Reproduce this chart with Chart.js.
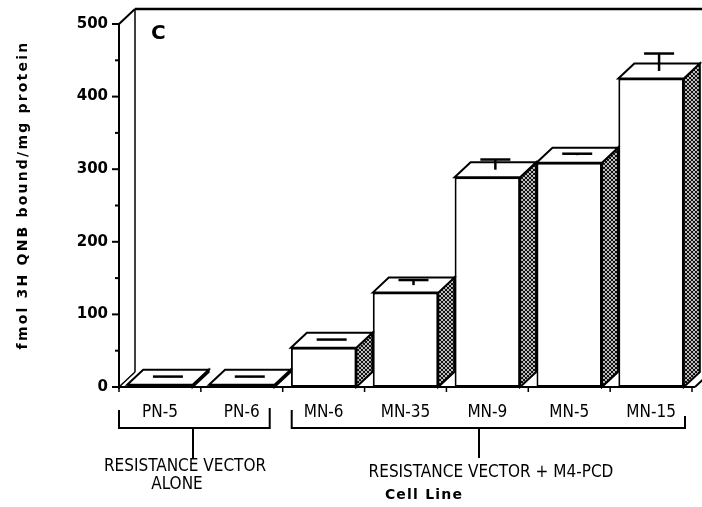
<!DOCTYPE html>
<html>
<head>
<meta charset="utf-8">
<script src="https://cdn.jsdelivr.net/npm/chart.js@4"></script>
<style>
  body { margin: 0; background: #fff; }
  canvas { display: block; }
</style>
</head>
<body>
<canvas id="qnb" width="702" height="507"></canvas>
<script>
// cell lines and binding values (front face of each bar)
const cellLines = ["PN-5", "PN-6", "MN-6", "MN-35", "MN-9", "MN-5", "MN-15"];
const qnbBound = [3, 3, 54, 130, 289, 309, 425];
const qnbErr = [1, 1, 1, 7, 14, 2, 24];
const yTicks = [0, 100, 200, 300, 400, 500];
const groups = [
  { from: 0, to: 1, lines: ["RESISTANCE VECTOR", "ALONE"] },
  { from: 2, to: 6, lines: ["RESISTANCE VECTOR + M4-PCD"] }
];

const DX = 16, DY = 15; // depth of the fake 3d
const narrow = "'Liberation Sans Narrow', 'DejaVu Sans Condensed', 'Liberation Sans', sans-serif";
const wide = "'DejaVu Sans', sans-serif";

// cross hatch for the bar sides
function hatch() {
  const c = document.createElement("canvas");
  c.width = 4; c.height = 4;
  const g = c.getContext("2d");
  g.fillStyle = "#bbb";
  g.fillRect(0, 0, 4, 4);
  g.fillStyle = "#111";
  [[0,0],[1,1],[2,2],[3,3],[3,0],[2,1],[1,2],[0,3]].forEach(p => g.fillRect(p[0], p[1], 1, 1));
  return g.createPattern(c, "repeat");
}

function poly(ctx, pts, fill) {
  ctx.beginPath();
  ctx.moveTo(pts[0][0], pts[0][1]);
  for (let i = 1; i < pts.length; i++) ctx.lineTo(pts[i][0], pts[i][1]);
  ctx.closePath();
  ctx.fillStyle = fill;
  ctx.fill();
  ctx.stroke();
}

function line(ctx, x1, y1, x2, y2) {
  ctx.beginPath();
  ctx.moveTo(x1, y1);
  ctx.lineTo(x2, y2);
  ctx.stroke();
}

const frame = {
  id: "frame",
  beforeDatasetsDraw(chart) {
    const ctx = chart.ctx, a = chart.chartArea;
    const y = chart.scales.y;
    ctx.save();
    ctx.strokeStyle = "#000";
    ctx.lineWidth = 2;
    // back wall + top edge
    line(ctx, a.left, a.top, a.left + DX, a.top - DY);
    ctx.lineWidth = 2.5;
    line(ctx, a.left + DX, a.top - DY, chart.width, a.top - DY);
    ctx.lineWidth = 1.5;
    line(ctx, a.left + DX, a.top - DY, a.left + DX, a.bottom - DY);
    line(ctx, a.left, a.bottom, a.left + DX, a.bottom - DY);
    // front axis and floor
    ctx.lineWidth = 2;
    line(ctx, a.left, a.top, a.left, a.bottom + 2);
    line(ctx, a.left - 2, a.bottom, a.right + 3, a.bottom);
    line(ctx, a.right + 3, a.bottom, a.right + 3 + DX * 0.75, a.bottom - DY * 0.75);
    // y ticks every 50
    for (let v = 0; v <= 500; v += 50) {
      const py = y.getPixelForValue(v);
      line(ctx, a.left - (v % 100 === 0 ? 7 : 4), py, a.left, py);
    }
    // x ticks between categories
    ctx.lineWidth = 1.5;
    const step = (a.right - a.left) / cellLines.length;
    for (let i = 0; i <= cellLines.length; i++) {
      const px = a.left + i * step;
      line(ctx, px, a.bottom, px, a.bottom + 5);
    }
    ctx.restore();
  },
  afterDatasetsDraw(chart) {
    const ctx = chart.ctx, y = chart.scales.y;
    const meta = chart.getDatasetMeta(0);
    const pat = hatch();
    ctx.save();
    ctx.strokeStyle = "#000";
    ctx.lineWidth = 2;
    meta.data.forEach((bar, i) => {
      const p = bar.getProps(["x", "y", "base", "width"], true);
      const L = p.x - p.width / 2, R = p.x + p.width / 2;
      poly(ctx, [[R, p.y], [R + DX, p.y - DY], [R + DX, p.base - DY], [R, p.base]], pat);
      poly(ctx, [[L, p.y], [L + DX, p.y - DY], [R + DX, p.y - DY], [R, p.y]], "#fff");
      // error bar sits in the middle of the top face
      const cx = p.x + DX / 2;
      const ym = p.y - DY / 2;
      const yc = y.getPixelForValue(qnbBound[i] + qnbErr[i]) - DY / 2;
      ctx.lineWidth = 2.5;
      line(ctx, cx, yc, cx, ym);
      line(ctx, cx - 15, yc, cx + 15, yc);
      ctx.lineWidth = 2;
    });
    ctx.restore();
  },
  afterDraw(chart) {
    const ctx = chart.ctx, a = chart.chartArea;
    const step = (a.right - a.left) / cellLines.length;
    ctx.save();
    ctx.fillStyle = "#000";
    ctx.strokeStyle = "#000";
    ctx.lineWidth = 2;
    // panel letter
    ctx.font = "bold 20px " + wide;
    ctx.textAlign = "left";
    ctx.textBaseline = "middle";
    ctx.fillText("C", 151, 34);
    // y title
    ctx.save();
    ctx.translate(23, 195);
    ctx.rotate(-Math.PI / 2);
    ctx.font = "bold 14px " + wide;
    ctx.letterSpacing = "2.2px";
    ctx.textAlign = "center";
    ctx.fillText("fmol 3H QNB bound/mg protein", 0, 0);
    ctx.restore();
    // group brackets
    const by = 428;
    ctx.font = "17px " + narrow;
    ctx.textAlign = "center";
    groups.forEach(g => {
      const first = g.from === 0;
      const xs = a.left + g.from * step + (first ? 0 : 9);
      const x2 = a.left + (g.to + 1) * step - (first ? 13 : 7);
      const mid = first ? 193 : 479;
      ctx.beginPath();
      ctx.moveTo(xs, by - 18);
      ctx.lineTo(xs, by);
      ctx.lineTo(x2, by);
      ctx.lineTo(x2, by - (first ? 20 : 12));
      ctx.stroke();
      line(ctx, mid, by, mid, by + 30);
      g.lines.forEach((t, k) => {
        const tx = first ? (k === 0 ? 185 : 177) : 491;
        ctx.fillText(t, tx, (first ? 467 : 473) + k * 18);
      });
    });
    // x title
    ctx.font = "bold 14px " + wide;
    ctx.letterSpacing = "1.2px";
    ctx.fillText("Cell Line", 424, 495);
    ctx.restore();
  }
};

new Chart(document.getElementById("qnb"), {
  type: "bar",
  data: {
    labels: cellLines,
    datasets: [{
      label: "fmol 3H QNB bound/mg protein",
      data: qnbBound,
      backgroundColor: "#fff",
      borderColor: "#000",
      borderWidth: 2,
      borderSkipped: false,
      barPercentage: 0.8,
      categoryPercentage: 1
    }]
  },
  options: {
    responsive: false,
    animation: false,
    layout: { padding: { top: 24, right: 10, left: 0, bottom: 0 } },
    plugins: { legend: { display: false }, tooltip: { enabled: false } },
    scales: {
      x: {
        offset: true,
        grid: { display: false, drawTicks: false },
        border: { display: false },
        ticks: { color: "#000", font: { family: narrow, size: 17 }, padding: 15, maxRotation: 0 },
        afterFit: s => { s.height = 120; }
      },
      y: {
        min: 0,
        max: 500,
        afterBuildTicks: s => { s.ticks = yTicks.map(v => ({ value: v })); },
        grid: { display: false, drawTicks: false },
        border: { display: false },
        ticks: { color: "#000", font: { family: wide, size: 15, weight: "bold" }, padding: 11 },
        afterFit: s => { s.width = 119; }
      }
    }
  },
  plugins: [frame]
});
</script>
</body>
</html>
